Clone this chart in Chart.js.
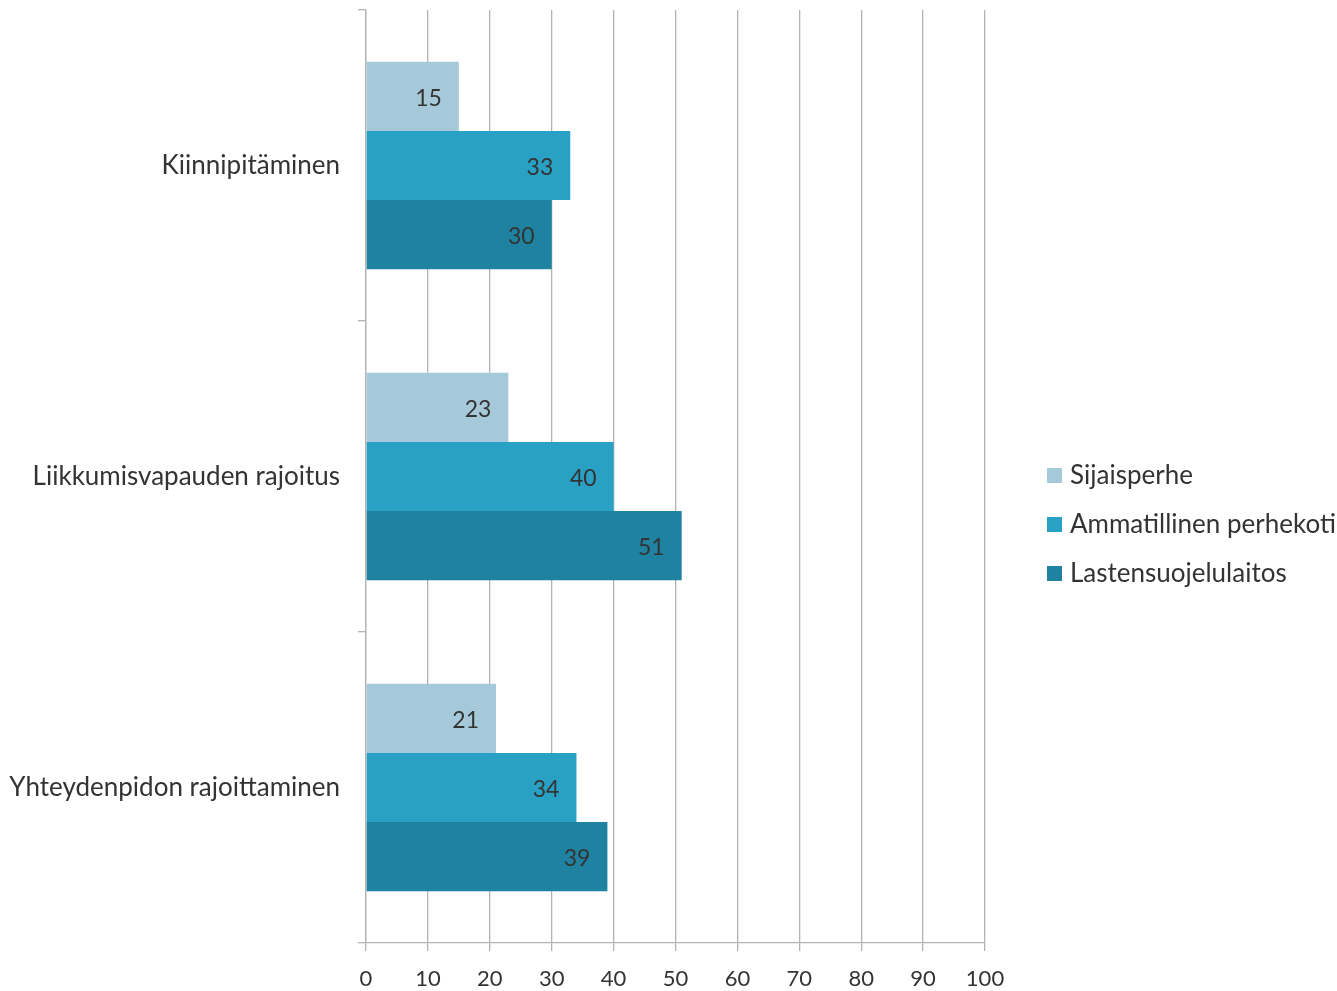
<!DOCTYPE html>
<html>
<head>
<meta charset="utf-8">
<script src="https://cdn.jsdelivr.net/npm/chart.js@4/dist/chart.umd.min.js"></script>
<style>
html,body{margin:0;padding:0;background:#fff;}
#wrap{width:1337px;height:991px;position:relative;}
</style>
</head>
<body>
<div id="wrap"><canvas id="c" width="1337" height="991"></canvas></div>
<script>
const categories = ["Kiinnipitäminen", "Liikkumisvapauden rajoitus", "Yhteydenpidon rajoittaminen"];
const seriesNames = ["Sijaisperhe", "Ammatillinen perhekoti", "Lastensuojelulaitos"];
const sijaisperhe = [15, 23, 21];
const ammatillinen = [33, 40, 34];
const laitos = [30, 51, 39];
const colors = ["#a6c9da", "#29a1c4", "#1e82a0"];
const xTicks = [0, 10, 20, 30, 40, 50, 60, 70, 80, 90, 100];

const FONT = "Lato, 'Source Sans Pro', sans-serif";
const TEXT = "#333333";
const GRID = "#b3b3b3";

const valueLabels = {
  id: 'valueLabels',
  afterDatasetsDraw(chart) {
    const ctx = chart.ctx;
    ctx.save();
    ctx.font = "23px " + FONT;
    ctx.fillStyle = TEXT;
    ctx.textAlign = "right";
    ctx.textBaseline = "middle";
    chart.data.datasets.forEach((ds, i) => {
      const meta = chart.getDatasetMeta(i);
      meta.data.forEach((bar, j) => {
        ctx.fillText(String(ds.data[j]), bar.x - 17, bar.y + 2);
      });
    });
    ctx.restore();
  }
};

const sideLegend = {
  id: 'sideLegend',
  afterDraw(chart) {
    const ctx = chart.ctx;
    const ca = chart.chartArea;
    const x = ca.right + 62;
    const top = (ca.top + ca.bottom) / 2 - 1;
    const gap = 49;
    ctx.save();
    ctx.font = "26px " + FONT;
    ctx.textBaseline = "middle";
    ctx.textAlign = "left";
    chart.data.datasets.forEach((ds, i) => {
      const cy = top + i * gap;
      ctx.fillStyle = ds.backgroundColor;
      ctx.fillRect(x, cy - 7.5, 15, 15);
      ctx.fillStyle = TEXT;
      ctx.fillText(ds.label, x + 23, cy);
    });
    ctx.restore();
  }
};

new Chart(document.getElementById('c'), {
  type: 'bar',
  data: {
    labels: categories,
    datasets: [
      { label: seriesNames[0], data: sijaisperhe, backgroundColor: colors[0] },
      { label: seriesNames[1], data: ammatillinen, backgroundColor: colors[1] },
      { label: seriesNames[2], data: laitos, backgroundColor: colors[2] }
    ]
  },
  options: {
    indexAxis: 'y',
    responsive: false,
    animation: false,
    devicePixelRatio: 1,
    layout: { padding: { top: 10, right: 352, left: 0, bottom: 0 } },
    datasets: { bar: { categoryPercentage: 0.667, barPercentage: 1.0, borderWidth: 0 } },
    plugins: { legend: { display: false }, tooltip: { enabled: false } },
    scales: {
      x: {
        min: 0, max: 100,
        afterBuildTicks(scale) { scale.ticks = xTicks.map(v => ({ value: v })); },
        afterFit(scale) { scale.height = 48; scale.paddingLeft = 0; scale.paddingRight = 0; },
        grid: { color: GRID, lineWidth: 1.3, tickLength: 8, drawTicks: true },
        border: { display: true, color: GRID, width: 1.3 },
        ticks: { color: TEXT, font: { family: FONT, size: 22 }, padding: 15, maxRotation: 0 }
      },
      y: {
        afterFit(scale) { scale.width = 366; scale.paddingTop = 0; scale.paddingBottom = 0; },
        grid: { drawOnChartArea: false, color: GRID, lineWidth: 1.3, tickLength: 8, offset: true },
        border: { display: true, color: GRID, width: 1.3 },
        ticks: { color: TEXT, font: { family: FONT, size: 26 }, padding: 18 }
      }
    }
  },
  plugins: [valueLabels, sideLegend]
});
</script>
</body>
</html>
